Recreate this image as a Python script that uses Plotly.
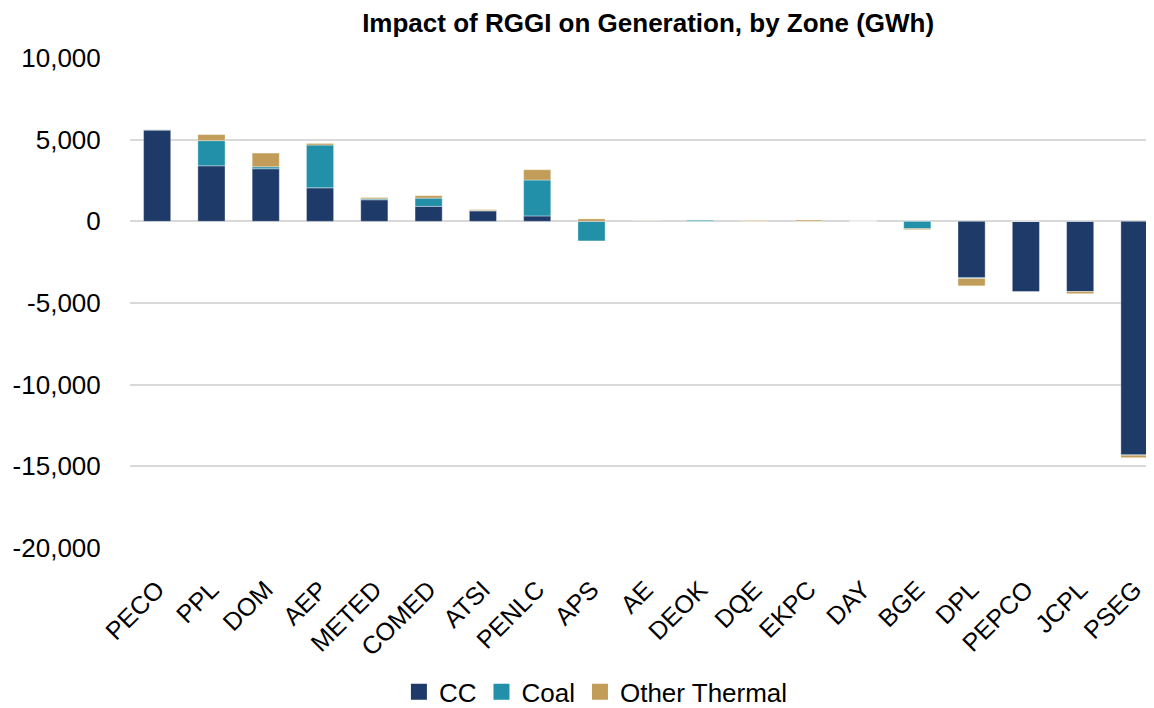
import plotly.graph_objects as go

zones = ["PECO", "PPL", "DOM", "AEP", "METED", "COMED", "ATSI", "PENLC", "APS", "AE",
         "DEOK", "DQE", "EKPC", "DAY", "BGE", "DPL", "PEPCO", "JCPL", "PSEG"]
cc = [5600, 3400, 3220, 2050, 1320, 920, 640, 330, 0, 30,
      0, 0, 0, 10, 0, -3450, -4300, -4300, -14300]
coal = [0, 1540, 120, 2620, 60, 500, 20, 2200, -1200, 0,
        80, 0, 0, 0, -450, -50, 0, 0, -20]
other = [0, 370, 840, 100, 80, 150, 60, 630, 150, 20,
         0, 40, 80, 0, -60, -450, 0, -130, -150]
y_ticks = [10000, 5000, 0, -5000, -10000, -15000, -20000]
y_tick_labels = [f"{v:,}" for v in y_ticks]

series = [("CC", cc, "#1E3A68"), ("Coal", coal, "#2290A8"), ("Other Thermal", other, "#C29C59")]

fig = go.Figure()
for name, vals, col in series:
    fig.add_trace(go.Bar(
        x=zones, y=vals, name=name, showlegend=False, legendgroup=name,
        marker=dict(color=col, line=dict(color="rgba(255,255,255,0.6)", width=0.6)),
    ))
# legend entries with larger square swatches
for name, vals, col in series:
    fig.add_trace(go.Scatter(
        x=[None], y=[None], mode="markers", name=name, legendgroup=name,
        marker=dict(symbol="square", size=16, color=col),
    ))

font_family = "Liberation Sans, Arial, sans-serif"
# page body has an 8px margin, so the figure is sized to fit the window
fig.update_layout(
    barmode="relative",
    bargap=0.5,
    width=1146, height=700,
    margin=dict(l=122, r=0, t=50, b=160),
    paper_bgcolor="white", plot_bgcolor="white",
    font=dict(family=font_family, color="#000000"),
    title=dict(text="<b>Impact of RGGI on Generation, by Zone (GWh)</b>",
               x=0.506, xref="paper", xanchor="center", y=0.979, yref="container",
               yanchor="middle", font=dict(size=26, color="#000000")),
    legend=dict(orientation="h", x=0.455, xanchor="center", y=0.023, yref="container",
                yanchor="middle", font=dict(size=26), traceorder="normal", itemwidth=30),
    showlegend=True,
)
fig.update_xaxes(
    type="category", range=[-0.5, 18.36], tickangle=-45, automargin=False,
    tickfont=dict(size=25), showgrid=False, showline=False,
    ticks="outside", ticklen=16, tickcolor="rgba(0,0,0,0)",
)
fig.update_yaxes(
    range=[-20000, 10000], tickvals=y_ticks, ticktext=y_tick_labels, automargin=False,
    tickfont=dict(size=26), showgrid=True, gridcolor="#d9d9d9", gridwidth=1.5,
    zeroline=True, zerolinecolor="#d9d9d9", zerolinewidth=1.5, showline=False,
    ticks="outside", ticklen=23, tickcolor="rgba(0,0,0,0)",
)
fig.write_html("out.html")
